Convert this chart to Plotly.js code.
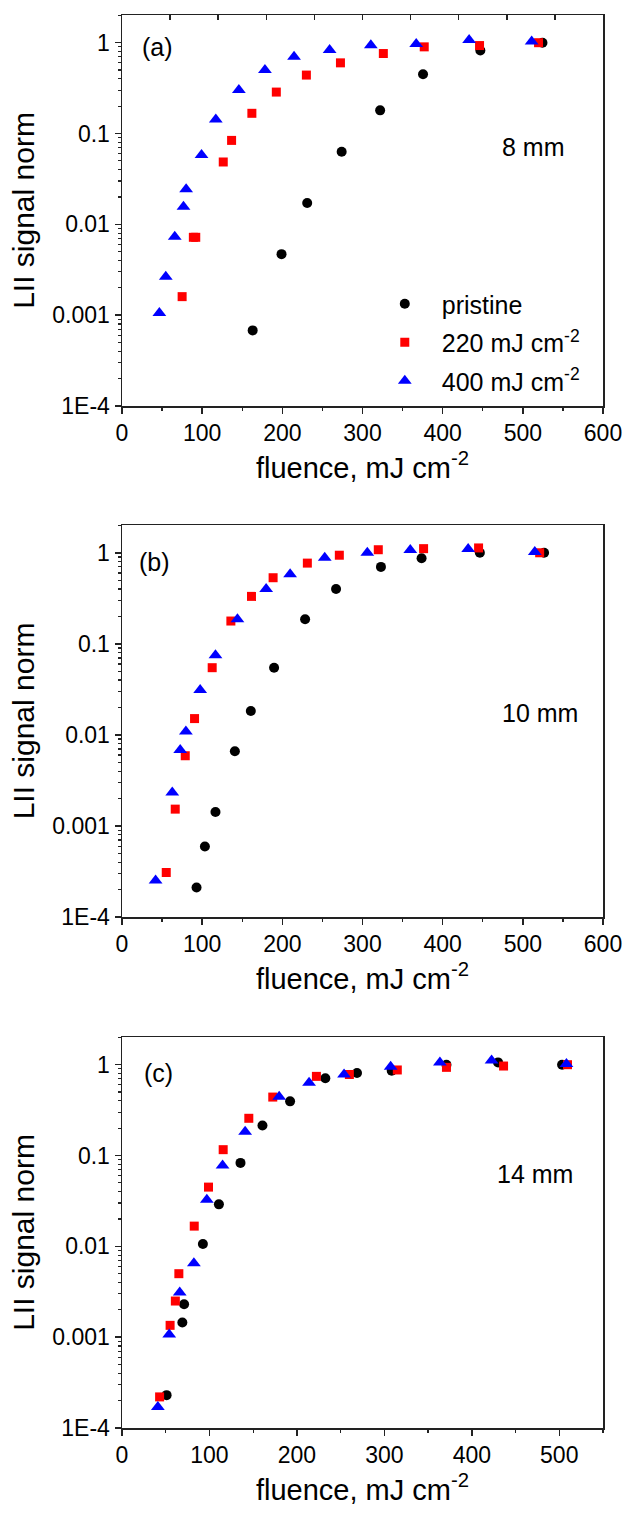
<!DOCTYPE html>
<html>
<head>
<meta charset="utf-8">
<script src="https://cdn.plot.ly/plotly-3.0.1.min.js"></script>
<style>html,body{margin:0;padding:0;background:#fff;}#chart{width:627px;height:1514px;}</style>
</head>
<body>
<div id="chart"></div>
<script>
// ---- Data ----
const seriesNames = ["pristine", "220 mJ cm<sup>-2</sup>", "400 mJ cm<sup>-2</sup>"];
const panelLabels = ["(a)", "(b)", "(c)"];
const panelDistances = ["8 mm", "10 mm", "14 mm"];
const yTickVals = [1e-4, 1e-3, 1e-2, 1e-1, 1];
const yTickText = ["1E-4", "0.001", "0.01", "0.1", "1"];

// Panel (a) 8 mm
const a_pristine_x = [163, 199, 231, 274, 322, 375.5, 447, 524.5];
const a_pristine_y = [0.00068, 0.0047, 0.0172, 0.063, 0.18, 0.45, 0.82, 1.0];
const a_220_x = [75, 89, 92, 126.3, 136.7, 162, 192.5, 230, 272.5, 326, 377, 446, 519.6];
const a_220_y = [0.0016, 0.0072, 0.0072, 0.0486, 0.084, 0.167, 0.286, 0.44, 0.60, 0.76, 0.90, 0.93, 1.0];
const a_400_x = [46.6, 54.6, 65.8, 76.7, 80, 99.2, 117, 145.8, 178.3, 214.6, 259, 310.4, 367, 433, 511];
const a_400_y = [0.00106, 0.00265, 0.0073, 0.0156, 0.0243, 0.058, 0.143, 0.301, 0.50, 0.70, 0.83, 0.94, 0.97, 1.07, 1.03];

// Panel (b) 10 mm
const b_pristine_x = [93, 103.4, 116.6, 140.8, 160.7, 189.7, 228.4, 267, 323, 373.7, 446.4, 526.5];
const b_pristine_y = [0.000211, 0.000595, 0.00142, 0.00662, 0.0183, 0.0547, 0.186, 0.40, 0.70, 0.87, 1.0, 1.0];
const b_220_x = [55.2, 66.4, 78.9, 90.5, 112.5, 135.8, 161.5, 188.5, 231.2, 271.1, 319.7, 376.2, 444.8, 521];
const b_220_y = [0.000308, 0.00153, 0.0059, 0.0151, 0.0547, 0.178, 0.332, 0.532, 0.77, 0.94, 1.08, 1.11, 1.13, 1.0];
const b_400_x = [41.9, 62.7, 72.6, 79.7, 97.5, 116.6, 144, 179.8, 209.7, 252.9, 306, 359.6, 431.8, 514.9];
const b_400_y = [0.000252, 0.00233, 0.00684, 0.01087, 0.0312, 0.0748, 0.186, 0.40, 0.58, 0.88, 1.0, 1.07, 1.1, 1.02];

// Panel (c) 14 mm
const c_pristine_x = [51, 69, 71, 92.5, 110.8, 135.5, 160.6, 192.2, 232.5, 268.7, 308.4, 371, 430, 503.2];
const c_pristine_y = [0.00023, 0.00145, 0.0023, 0.0106, 0.029, 0.083, 0.214, 0.395, 0.71, 0.81, 0.86, 1.0, 1.06, 1.0];
const c_220_x = [43, 55, 61, 65, 82.6, 98.9, 115.7, 145, 172.4, 222.3, 260, 314.8, 371, 436.3, 509.4];
const c_220_y = [0.00022, 0.00135, 0.0025, 0.0050, 0.0167, 0.0449, 0.116, 0.257, 0.44, 0.744, 0.78, 0.875, 0.935, 0.967, 1.0];
const c_400_x = [41, 54, 66, 82.2, 97, 115, 140.8, 179.7, 213.9, 253.9, 307.2, 363.5, 422.6, 508.2];
const c_400_y = [0.00017, 0.00107, 0.0031, 0.0065, 0.0326, 0.0777, 0.183, 0.445, 0.634, 0.78, 0.95, 1.06, 1.11, 1.02];

// ---- Styling ----
const FONT = "Liberation Sans, Arial, sans-serif";
const colors = ["#000000", "#ff0000", "#0000ff"];
const symbols = ["circle", "square", "triangle-up"];
const sizes = [10, 9, 12];

const panels = [
  {xs: [a_pristine_x, a_220_x, a_400_x], ys: [a_pristine_y, a_220_y, a_400_y]},
  {xs: [b_pristine_x, b_220_x, b_400_x], ys: [b_pristine_y, b_220_y, b_400_y]},
  {xs: [c_pristine_x, c_220_x, c_400_x], ys: [c_pristine_y, c_220_y, c_400_y]}
];

const traces = [];
panels.forEach((p, pi) => {
  const sfx = pi === 0 ? "" : String(pi + 1);
  for (let s = 0; s < 3; s++) {
    traces.push({
      type: "scatter", mode: "markers",
      x: p.xs[s], y: p.ys[s],
      xaxis: "x" + sfx, yaxis: "y" + sfx,
      name: seriesNames[s],
      legendgroup: "g" + s,
      showlegend: pi === 0,
      marker: {color: colors[s], symbol: symbols[s], size: sizes[s], line: {width: 0}},
      cliponaxis: false
    });
  }
});

// minor log ticks
const minorVals = [];
for (let e = -4; e <= 0; e++) for (let d = 2; d <= 9; d++) minorVals.push(d * Math.pow(10, e));

const H = 1514;
const domains = [
  [1 - 406 / H, 1 - 15 / H],
  [1 - 917 / H, 1 - 525 / H],
  [1 - 1428 / H, 1 - 1037 / H]
];
const xRanges = [[0, 600], [0, 600], [0, 550]];

const layout = {
  width: 627, height: 1514,
  margin: {l: 122, r: 24, t: 0, b: 0},
  paper_bgcolor: "#fff", plot_bgcolor: "#fff",
  font: {family: FONT, color: "#000", size: 23},
  showlegend: true,
  legend: {
    x: 0.511, y: 1 - 281 / H, xanchor: "left", yanchor: "top",
    bgcolor: "rgba(0,0,0,0)", borderwidth: 0,
    font: {family: FONT, size: 25, color: "#000"},
    traceorder: "grouped", tracegroupgap: 3, itemwidth: 64
  },
  annotations: [],
  shapes: []
};

for (let i = 0; i < 3; i++) {
  const sfx = i === 0 ? "" : String(i + 1);
  layout["xaxis" + sfx] = {
    domain: [0, 1], anchor: "y" + sfx, range: xRanges[i],
    showline: true, linecolor: "#222", linewidth: 1.5, mirror: true,
    showgrid: false, zeroline: false,
    tickmode: "linear", tick0: 0, dtick: 100,
    ticks: "outside", ticklen: 6, tickwidth: 1.5, tickcolor: "#222",
    minor: {ticks: "outside", ticklen: 3, tickwidth: 1.2, tickcolor: "#222", dtick: 50, tick0: 0, showgrid: false},
    tickfont: {family: FONT, size: 23, color: "#000"},
    title: {text: "fluence, mJ cm<sup>-2</sup>", font: {family: FONT, size: 29, color: "#000"}, standoff: 12},
    automargin: false
  };
  layout["yaxis" + sfx] = {
    domain: domains[i], anchor: "x" + sfx, type: "log", range: [-4, 0.305],
    showline: true, linecolor: "#222", linewidth: 1.5, mirror: true,
    showgrid: false, zeroline: false,
    tickmode: "array", tickvals: yTickVals, ticktext: yTickText,
    ticks: "outside", ticklen: 6, tickwidth: 1.5, tickcolor: "#222",
    minor: {ticks: "outside", ticklen: 3, tickwidth: 1.2, tickcolor: "#222", tickmode: "array", tickvals: minorVals, showgrid: false},
    tickfont: {family: FONT, size: 23, color: "#000"},
    title: {text: "LII signal norm", font: {family: FONT, size: 30, color: "#000"}, standoff: 9},
    automargin: false
  };
}

// top ticks on panel (a) only
layout.xaxis4 = {
  overlaying: "x", anchor: "y", side: "top", range: [0, 600],
  showline: false, showgrid: false, zeroline: false,
  tickmode: "linear", tick0: 0, dtick: 60,
  ticks: "inside", ticklen: 5, tickwidth: 1.5, tickcolor: "#222",
  showticklabels: false
};
traces.push({type: "scatter", mode: "markers", x: [], y: [], xaxis: "x4", yaxis: "y", showlegend: false, hoverinfo: "skip"});

const labelPos = [[0.0733, 1 - 46.7 / H], [0.0686, 1 - 561.7 / H], [0.0754, 1 - 1073.3 / H]];
const distPos = [[0.8565, 1 - 146.7 / H], [0.8685, 1 - 712.7 / H], [0.858, 1 - 1174 / H]];
for (let i = 0; i < 3; i++) {
  layout.annotations.push({
    text: panelLabels[i], xref: "paper", yref: "paper",
    x: labelPos[i][0], y: labelPos[i][1], xanchor: "center", yanchor: "middle",
    showarrow: false, font: {family: FONT, size: 25, color: "#000"}
  });
  layout.annotations.push({
    text: panelDistances[i], xref: "paper", yref: "paper",
    x: distPos[i][0], y: distPos[i][1], xanchor: "center", yanchor: "middle",
    showarrow: false, font: {family: FONT, size: 25, color: "#000"}
  });
}

Plotly.newPlot("chart", traces, layout, {staticPlot: true, displayModeBar: false});
</script>
</body>
</html>
